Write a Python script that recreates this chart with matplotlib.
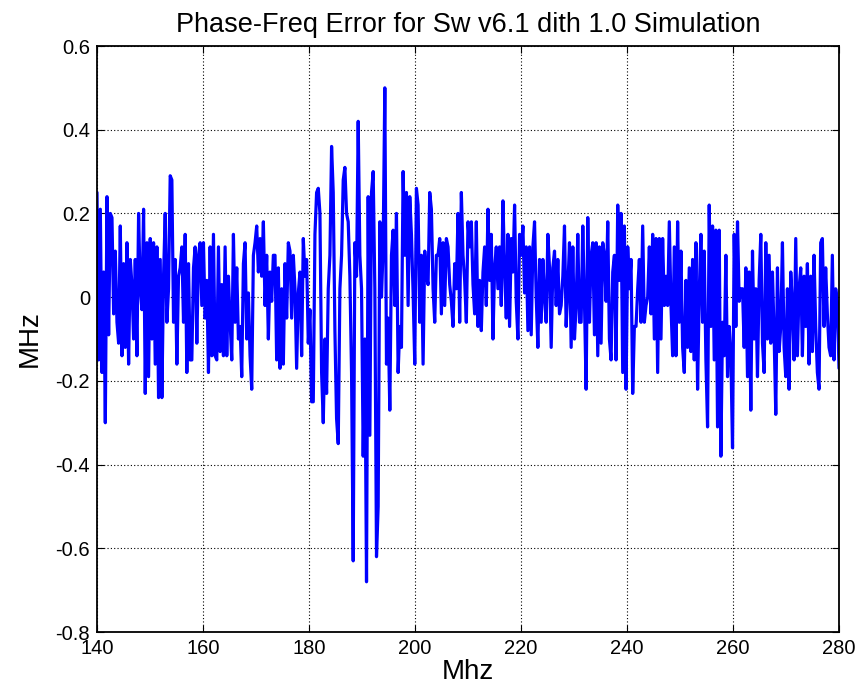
import numpy as np
import matplotlib
matplotlib.use("Agg")
import matplotlib.pyplot as plt

plt.rcParams['font.family'] = ['Liberation Sans', 'DejaVu Sans']

# Phase-frequency error (MHz), sampled uniformly from 140 to 280 MHz
err_140_158 = [0.25, -0.15, 0.21, -0.18, 0.06, -0.30, 0.24, -0.09, 0.20, 0.19,
               -0.04, 0.11, -0.06, -0.11, 0.17, -0.14, 0.08, -0.12, 0.13, -0.16,
               0.09, 0.03, -0.10, 0.09, -0.14, 0.20, 0.02, -0.03, 0.21, -0.23,
               0.13, -0.19, 0.14, -0.10, 0.13, -0.16, 0.12, -0.24, 0.09, -0.24,
               0.05, 0.20, -0.06, 0.02, 0.29, 0.28, -0.06, 0.09, -0.16, 0.05,
               0.07, 0.12, -0.06, 0.15, -0.18, 0.08, -0.15]
err_158_175 = [-0.15, 0.07, 0.12, -0.11, 0.10, 0.13, -0.02, 0.13, -0.05, 0.04,
               -0.18, 0.12, -0.14, 0.15, -0.14, -0.15, 0.12, -0.13, 0.03, -0.14,
               0.12, -0.14, 0.05, -0.06, -0.15, 0.15, -0.06, 0.07, -0.10, -0.07,
               -0.19, 0.08, 0.13, -0.10, 0.01, -0.14, -0.22, 0.10, 0.13, 0.17,
               0.06, 0.14, 0.05, 0.18, -0.02, 0.10, -0.10, 0.06, -0.01, 0.10,
               0.10, -0.15, 0.07, -0.17]
err_175_193 = [0.02, -0.16, 0.08, -0.05, 0.13, 0.11, -0.05, 0.10, 0.02, -0.17,
               0.01, 0.06, -0.14, 0.14, 0.05, 0.09, -0.11, -0.03, -0.25, -0.25,
               0.15, 0.25, 0.26, 0.20, -0.18, -0.30, -0.10, -0.23, 0.02, 0.10,
               0.36, 0.25, -0.08, -0.29, -0.35, 0.02, 0.10, 0.28, 0.31, 0.20,
               0.18, 0.05, -0.18, -0.63,
               0.13, 0.05, 0.42, 0.10, 0.02, -0.38, -0.10, -0.68, 0.24, -0.33,
               0.25, 0.30, 0.02, -0.62, -0.50, 0.18]
err_193_211 = [0.00, 0.12, 0.50, -0.16, -0.05, -0.27, 0.10, 0.16, -0.02, 0.20,
               -0.18, -0.07, -0.12, 0.30, 0.10, 0.25, -0.02, 0.24, 0.15, 0.01,
               -0.16, 0.26, 0.22, -0.06, 0.10, -0.16, 0.11, 0.05, 0.03, 0.25,
               0.21, 0.02, -0.06, 0.10, 0.10, 0.14, -0.04, 0.13, -0.02, 0.14,
               0.12, 0.03, -0.01, -0.07, 0.08, 0.02, 0.20, -0.06, 0.25, 0.10,
               0.04, -0.06, 0.18, 0.12, 0.18, 0.03, -0.04]
err_211_229 = [0.18, -0.07, 0.04, -0.08, 0.06, 0.12, -0.02, 0.21, 0.04, 0.15,
               -0.10, 0.07, 0.12, 0.02, 0.12, -0.02, 0.23, 0.07, -0.05, 0.15,
               -0.07, 0.14, 0.06, 0.22, -0.01, -0.10, 0.15, 0.10, 0.17, 0.01,
               0.12, -0.08, 0.12, -0.09, 0.12, 0.18, 0.00, -0.12, 0.09, -0.06,
               0.09, 0.00, -0.06, 0.15, 0.07, -0.12, 0.07, 0.11, -0.02, 0.09,
               -0.04, -0.02, 0.05, 0.17, -0.07, 0.02, 0.13]
err_229_247 = [-0.12, 0.12, -0.10, -0.02, 0.15, -0.06, -0.06, 0.17, -0.01, -0.22,
               0.19, -0.06, 0.10, 0.13, -0.09, 0.13, -0.14, 0.12, -0.11, 0.13,
               0.10, -0.01, 0.18, -0.10, -0.15, 0.06, 0.10, -0.15, 0.22, 0.04,
               0.20, -0.18, 0.17, -0.22, 0.12, 0.02, 0.09, -0.23, -0.07, -0.07,
               0.02, 0.09, -0.06, 0.17, -0.06, -0.02, 0.00, 0.12, -0.04, 0.15,
               -0.10, 0.14, -0.18, 0.14, -0.10, 0.14, -0.02]
err_247_265 = [0.05, -0.02, 0.18, -0.02, -0.14, 0.12, -0.14, 0.18, -0.06, 0.11,
               -0.12, -0.18, 0.04, -0.12, 0.07, -0.13, 0.09, -0.15, 0.13, -0.22,
               0.01, 0.15, -0.06, 0.11, -0.15, -0.31, 0.22, -0.07, 0.17, -0.15,
               0.16, -0.31, 0.16, -0.38, -0.06, -0.14, 0.10, -0.19, -0.07, -0.14,
               -0.36, 0.15, -0.07, 0.18, -0.01, 0.02, 0.02, -0.12, 0.07, -0.19,
               0.06, -0.27, 0.11, -0.10, 0.02, -0.19, 0.04]
err_265_280 = [0.15, -0.11, -0.18, 0.13, -0.10, 0.10, -0.11, 0.06, -0.09, -0.28,
               0.07, -0.13, -0.07, 0.13, -0.12, -0.19, 0.02, -0.22, 0.06, -0.02,
               -0.15, 0.14, -0.14, 0.02, 0.07, -0.14, 0.05, -0.07, 0.08, -0.16,
               0.05, -0.13, 0.10, -0.07, -0.18, -0.22, 0.13, 0.14, -0.07, 0.07,
               -0.04, -0.12, -0.14, 0.10, -0.15, 0.02, -0.01, -0.17]

freq_start, freq_stop = 140, 280
x_ticks = [140, 160, 180, 200, 220, 240, 260, 280]
y_ticks = [-0.8, -0.6, -0.4, -0.2, 0, 0.2, 0.4, 0.6]
y_tick_labels = ['-0.8', '-0.6', '-0.4', '-0.2', '0', '0.2', '0.4', '0.6']

err = np.concatenate([err_140_158, err_158_175, err_175_193, err_193_211,
                      err_211_229, err_229_247, err_247_265, err_265_280])
freq = np.linspace(freq_start, freq_stop, err.size)

fig = plt.figure(figsize=(8.63, 6.96), dpi=100)
ax = fig.add_axes([97 / 863, 1 - 632 / 696, (839 - 97) / 863, (632 - 46) / 696])

ax.plot(freq, err, color=(0, 0, 1), linewidth=2.3,
        solid_joinstyle='round', solid_capstyle='round')

ax.set_xlim(freq_start, freq_stop)
ax.set_ylim(-0.8, 0.6)
ax.set_xticks(x_ticks)
ax.set_yticks(y_ticks)
ax.set_yticklabels(y_tick_labels)
ax.grid(True, color='black', linestyle=(0, (1, 2)), linewidth=0.8)
ax.tick_params(direction='in', length=5, width=0.8, top=True, right=True,
               labelsize=14.5, pad=5, colors='black')
for s in ax.spines.values():
    s.set_linewidth(1.3)
    s.set_color('black')

ax.set_title('Phase-Freq Error for Sw v6.1 dith 1.0 Simulation', fontsize=19.5, pad=10)
ax.set_xlabel('Mhz', fontsize=20, labelpad=1)
ax.set_ylabel('MHz', fontsize=20, labelpad=9)

fig.savefig('out.png', dpi=100)
